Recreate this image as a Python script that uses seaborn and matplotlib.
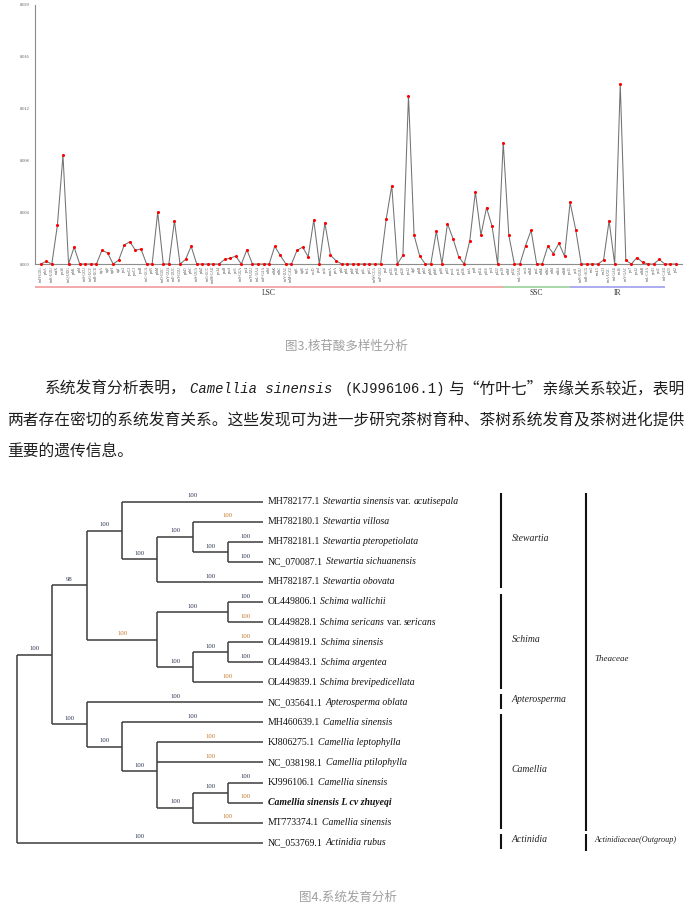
import numpy as np
import pandas as pd
import seaborn as sns
import matplotlib.pyplot as plt
from matplotlib.transforms import IdentityTransform

# ---------------- data: nucleotide diversity (Pi) per gene ----------------
genes_lsc = ['trnH-GUG', 'psbA', 'trnK-UUU', 'matK', 'rps16', 'trnQ-UUG', 'psbK', 'psbI', 'trnS-GCU', 'trnG-UCC',
             'trnR-UCU', 'atpA', 'atpF', 'atpH', 'atpI', 'rps2', 'rpoC2', 'rpoC1', 'rpoB', 'trnC-GCA',
             'petN', 'psbM', 'trnD-GUC', 'trnY-GUA', 'trnE-UUC', 'trnT-GGU', 'psbD', 'psbC', 'trnS-UGA', 'psbZ',
             'trnG-GCC', 'trnfM-CAU', 'rps14', 'psaB', 'psaA', 'ycf3', 'trnS-GGA', 'rps4', 'trnT-UGU', 'trnL-UAA',
             'trnF-GAA', 'ndhJ', 'ndhK', 'ndhC', 'trnV-UAC', 'trnM-CAU', 'atpE', 'atpB', 'rbcL', 'accD',
             'psaI', 'ycf4', 'cemA', 'petA', 'psbJ', 'psbL', 'psbF', 'psbE', 'petL', 'petG',
             'trnW-CCA', 'trnP-UGG', 'psaJ', 'rpl33', 'rps18', 'rpl20', 'rps12', 'clpP', 'psbB', 'psbT',
             'psbN', 'psbH', 'petB', 'petD', 'rpoA', 'rps11', 'rpl36', 'infA', 'rps8', 'rpl14',
             'rpl16', 'rps3', 'rpl22', 'rps19']
genes_ssc = ['ndhF', 'rpl32', 'trnL-UAG', 'ccsA', 'ndhD', 'psaC', 'ndhE', 'ndhG', 'ndhI', 'ndhA',
             'ndhH', 'rps15', 'ycf1']
genes_ir = ['trnN-GUU', 'trnR-ACG', 'rrn5', 'rrn4.5', 'rrn23', 'trnA-UGC', 'trnI-GAU', 'rrn16', 'trnV-GAC', 'rps7',
            'rps12', 'ndhB', 'trnL-CAA', 'ycf15', 'ycf2', 'trnI-CAU', 'rpl23', 'rpl2']
genes = genes_lsc + genes_ssc + genes_ir

pi_values = [0, 0.0002, 0, 0.0030, 0.0084, 0, 0.0013, 0, 0, 0,
             0, 0.00106, 0.00086, 0, 0.0003, 0.00147, 0.00172, 0.00106, 0.00116, 0,
             0, 0.0040, 0, 0, 0.00334, 0, 0.00035, 0.00137, 0, 0,
             0, 0, 0, 0.00035, 0.00046, 0.0006, 0, 0.00109, 0, 0,
             0, 0, 0.00137, 0.00066, 0, 0, 0.00106, 0.0013, 0.00056, 0.0034,
             0, 0.00316, 0.00068, 0.00025, 0, 0, 0, 0, 0, 0,
             0, 0, 0.00347, 0.00605, 0, 0.00068, 0.0130, 0.00223, 0.00063, 0,
             0, 0.00253, 0, 0.00311, 0.00195, 0.00056, 0, 0.0018, 0.00557, 0.00223,
             0.00435, 0.00291, 0, 0.00937, 0.00223, 0, 0, 0.00142, 0.0026, 0,
             0, 0.00137, 0.00081, 0.0016, 0.0006, 0.00476, 0.00266, 0, 0, 0,
             0, 0.0003, 0.00334, 0, 0.0139, 0.00028, 0, 0.0005, 0.00013, 0,
             0, 0.00035, 0, 0, 0]

regions = ['LSC', 'SSC', 'IR']
region_sizes = [len(genes_lsc), len(genes_ssc), len(genes_ir)]
region_colors = ['#f3a9a9', '#a9d6a9', '#ababef']

# ---------------- data: phylogeny ----------------
accessions = ['MH782177.1', 'MH782180.1', 'MH782181.1', 'NC_070087.1', 'MH782187.1',
              'OL449806.1', 'OL449828.1', 'OL449819.1', 'OL449843.1', 'OL449839.1',
              'NC_035641.1', 'MH460639.1', 'KJ806275.1', 'NC_038198.1', 'KJ996106.1',
              '', 'MT773374.1', 'NC_053769.1']
species = ['Stewartia sinensis var. acutisepala', 'Stewartia villosa', 'Stewartia pteropetiolata',
           'Stewartia sichuanensis', 'Stewartia obovata', 'Schima wallichii',
           'Schima sericans var. sericans', 'Schima sinensis', 'Schima argentea',
           'Schima brevipedicellata', 'Apterosperma oblata', 'Camellia sinensis',
           'Camellia leptophylla', 'Camellia ptilophylla', 'Camellia sinensis',
           'Camellia sinensis L cv zhuyeqi', 'Camellia sinensis', 'Actinidia rubus']
highlight_leaf = 15
leaf_support = [100] * 18
newick = ("((((t0,((t1,(t2,t3)100)100,t4)100)100,((t5,t6)100,((t7,t8)100,t9)100)100)98,"
          "(t10,(t11,(t12,t13,((t14,t15)100,t16)100)100)100)100)100,t17)")

genera = ['Stewartia', 'Schima', 'Apterosperma', 'Camellia', 'Actinidia']
genus_leaves = [(0, 4), (5, 9), (10, 10), (11, 16), (17, 17)]
families = ['Theaceae', 'Actinidiaceae(Outgroup)']
family_leaves = [(0, 16), (17, 17)]

W, H = 692, 918
sns.set_style('white')
plt.rcParams['font.family'] = ['Liberation Serif', 'DejaVu Sans']
CJK = ['Noto Sans CJK SC', 'DejaVu Sans']

fig = plt.figure(figsize=(W / 100, H / 100), dpi=100)


def box(x0, y0, x1, y1):
    return [x0 / W, 1 - y1 / H, (x1 - x0) / W, (y1 - y0) / H]


def ptext(x, y, s, **kw):
    # text placed in pixel coordinates measured from the top-left corner
    return fig.text(x, H - y, s, transform=IdentityTransform(), **kw)


# ================= Fig 3: nucleotide diversity =================
ax = fig.add_axes(box(35, 5, 682, 264))
df = pd.DataFrame({'pos': np.arange(len(pi_values)), 'pi': pi_values, 'gene': genes})
sns.lineplot(data=df, x='pos', y='pi', color='#727272', linewidth=0.75, ax=ax)
sns.scatterplot(data=df, x='pos', y='pi', color='red', s=5, linewidth=0, ax=ax, zorder=3)
for c in ax.collections:
    c.set_clip_on(False)

ax.set_xlim(-1.02, 115.08)
ax.set_ylim(0, 0.020)
yt = np.arange(0, 0.0201, 0.004)
ax.set_yticks(yt)
ax.set_yticklabels([f'{v:.3f}' for v in yt], fontsize=3.2, color='#555555')
ax.set_xticks(df['pos'])
ax.set_xticklabels(df['gene'], rotation=90, fontsize=2.6, color='#444444')
ax.tick_params(axis='both', length=0, pad=1.5)
ax.tick_params(axis='y', pad=4)
ax.set_xlabel('')
ax.set_ylabel('')
sns.despine(ax=ax)
for side in ['left', 'bottom']:
    ax.spines[side].set_color('#8c8c8c')
    ax.spines[side].set_linewidth(0.8)

# genome region bars under the gene names
tr = ax.get_xaxis_transform()
start = ax.get_xlim()[0]
idx = 0
for name, size, col in zip(regions, region_sizes, region_colors):
    end = idx + size - 1
    ax.plot([start, end], [-0.089, -0.089], transform=tr, color=col, lw=1.4, clip_on=False,
            solid_capstyle='butt')
    ax.text((start + end) / 2 if name != 'LSC' else (idx - 1 + end) / 2, -0.112, name,
            transform=tr, ha='center', va='center', fontsize=5.5, color='#333333')
    start = end
    idx = end

ptext(346, 346, '图3.核苷酸多样性分析', ha='center', va='center', fontsize=9, color='#a0a0a0',
      family=CJK)

# ================= paragraph =================
tc = '#1e1e1e'
fcjk = 11.35
ptext(45, 389, '系统发育分析表明，', ha='left', va='center', fontsize=fcjk, color=tc, family=CJK)
ptext(190, 389, 'Camellia sinensis', ha='left', va='center', fontsize=10, color=tc,
      family='Liberation Mono', style='italic')
ptext(345, 389, '(KJ996106.1)', ha='left', va='center', fontsize=10, color=tc, family='Liberation Mono')
ptext(684, 389, '与“竹叶七”亲缘关系较近，表明', ha='right', va='center', fontsize=fcjk, color=tc,
      family=CJK)
ptext(7, 421, '两者存在密切的系统发育关系。这些发现可为进一步研究茶树育种、茶树系统发育及茶树进化提供',
      ha='left', va='center', fontsize=fcjk, color=tc, family=CJK)
ptext(7, 452, '重要的遗传信息。', ha='left', va='center', fontsize=fcjk, color=tc, family=CJK)


# ================= Fig 4: phylogenetic tree =================
def parse(s, i=0):
    if s[i] == '(':
        kids = []
        i += 1
        while True:
            k, i = parse(s, i)
            kids.append(k)
            if s[i] == ',':
                i += 1
            else:
                i += 1
                break
        j = i
        while j < len(s) and s[j].isdigit():
            j += 1
        sup = int(s[i:j]) if j > i else None
        return {'kids': kids, 'support': sup}, j
    j = i
    while s[j] not in ',)':
        j += 1
    leaf = int(s[i + 1:j])
    return {'kids': [], 'leaf': leaf, 'support': leaf_support[leaf]}, j


tree, _ = parse(newick)


def layout(node):
    if not node['kids']:
        node['h'] = 0
        node['y'] = node['leaf']
        node['span'] = (node['leaf'], node['leaf'])
    else:
        for k in node['kids']:
            layout(k)
        node['h'] = 1 + max(k['h'] for k in node['kids'])
        node['y'] = np.mean([k['y'] for k in node['kids']])
        node['span'] = (node['kids'][0]['span'][0], node['kids'][-1]['span'][1])


layout(tree)
depth = tree['h']

tax = fig.add_axes(box(0, 480, 692, 870))
tax.axis('off')
step = 35.19
tax.set_xlim(-16.7 / step, (W - 16.7) / step)
tax.set_ylim((870 - 501.7) / 20.06, (480 - 501.7) / 20.06)

line_col = '#3c3c3c'
orange_clades = {(1, 1), (6, 6), (7, 7), (9, 9), (12, 12), (13, 13), (15, 15), (16, 16), (5, 9)}


def draw(node):
    x = depth - node['h']
    ys = [k['y'] for k in node['kids']]
    tax.plot([x, x], [min(ys), max(ys)], color=line_col, lw=1.1, solid_capstyle='butt')
    for k in node['kids']:
        kx = depth - k['h']
        tax.plot([x, kx], [k['y'], k['y']], color=line_col, lw=1.1, solid_capstyle='butt')
        col = '#c47a2c' if k['span'] in orange_clades else '#2a3550'
        tax.text((x + kx) / 2, k['y'] - 0.29, str(k['support']), ha='center', va='center',
                 fontsize=4.8, color=col)
        if k['kids']:
            draw(k)


draw(tree)

# tip labels (accession upright, species italic, 'var.' upright)
renderer = fig.canvas.get_renderer()
fs = 7
for i in range(len(species)):
    xd, yd = tax.transData.transform((depth, i))
    xp = xd + 5
    if i == highlight_leaf:
        fig.text(xp, yd, species[i], transform=IdentityTransform(), fontsize=fs, va='center',
                 style='italic', weight='bold', color='#111111')
        continue
    pieces = [(accessions[i], 'normal')]
    sp = species[i].split(' var. ')
    pieces.append((sp[0], 'italic'))
    if len(sp) > 1:
        pieces.append(('var.', 'normal'))
        pieces.append((sp[1], 'italic'))
    for txt, st in pieces:
        t = fig.text(xp, yd, txt, transform=IdentityTransform(), fontsize=fs, va='center',
                     style=st, color='#111111')
        xp += t.get_window_extent(renderer).width + 2.6

# clade bars
bar_x = (500.7 - 16.7) / step
fam_x = (585.7 - 16.7) / step
for name, (a, b) in zip(genera, genus_leaves):
    tax.plot([bar_x, bar_x], [a - 0.42, b + 0.32], color='#111111', lw=1.5, solid_capstyle='butt')
    tax.text(bar_x + 0.31, (a + b) / 2 - 0.15, name, ha='left', va='center', fontsize=7,
             style='italic', color='#222222')
for name, (a, b) in zip(families, family_leaves):
    tax.plot([fam_x, fam_x], [a - 0.42, b + 0.4], color='#111111', lw=1.5, solid_capstyle='butt')
    tax.text(fam_x + 0.24, (a + b) / 2 - 0.15, name, ha='left', va='center',
             fontsize=6.5 if b > a else 5.9, style='italic', color='#222222')

ptext(348, 897, '图4.系统发育分析', ha='center', va='center', fontsize=9, color='#a0a0a0', family=CJK)

fig.savefig('out.png', dpi=100)
